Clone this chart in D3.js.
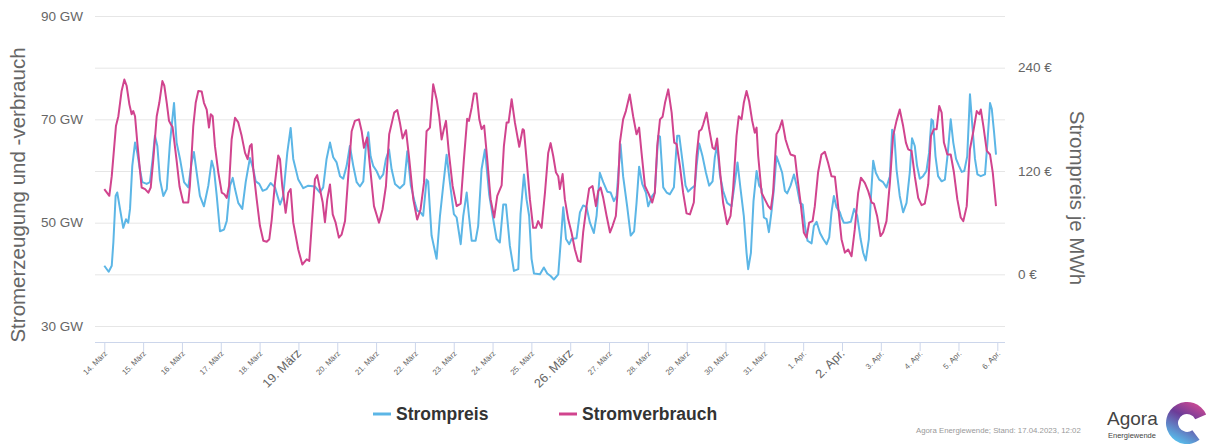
<!DOCTYPE html>
<html>
<head>
<meta charset="utf-8">
<script src="https://cdn.jsdelivr.net/npm/d3@7"></script>
<style>
	body { margin: 0; background: #fff; }
	#chart text { font-family: 'Liberation Sans', Arial, Helvetica, sans-serif; }
</style>
</head>
<body>
<div id="chart"></div>
<script>
// hours are counted from 14. März 00:00
var priceHours = [0,2.7,4.6,5.6,7,8,9.7,11.7,13.4,14.8,15.9,17.3,19,20.4,22,23.5,26.2,28.2,29.9,31.3,32.8,34.4,36.5,38.6,40.6,43.1,44.7,46.8,49.3,51.9,54,55.4,57.1,59.1,61.6,64.3,66.4,67.8,69.5,71.5,74,75.7,77.7,79.4,80.8,82.8,85.3,87.4,90,92.1,93.6,95.8,97.9,100.4,102.8,105.5,108.6,110.6,113.1,115.2,116.8,119.9,123,126.1,130.2,133.3,135.3,137.4,139.5,141.5,143.6,145.7,147.7,149.8,151.8,153.9,156,158,160.1,161.7,163.2,164.6,166.2,168.3,170.4,172.4,174.1,176,177.6,179.7,182.7,185.4,187.3,189.5,192,193.4,195.5,197.1,199.2,200.2,202.3,205.4,207.5,209.5,211.6,213.6,216.1,217.8,220.3,221.9,224,225.4,227.1,229.5,231.1,233.2,235.3,237.9,240.4,242.5,244.5,246.6,248.3,250.7,253.2,255.9,257.3,259.4,261,262.6,264.1,265.6,269.3,271.7,273.8,275.9,277.9,280.6,282.1,283.7,285.4,287.4,288.8,291.9,294,296,298.1,300.2,302.6,304.3,306.3,308.4,310.9,313,315,316.7,318.1,319.1,320.7,323.2,325.4,327.5,329,330.6,332.5,334.8,336.2,338.7,340.3,342.4,343.5,345.5,347.6,349.6,352.1,354.1,355.4,357.5,359.3,360.9,363,365.1,366.1,367.7,369.8,371.9,373.9,376,377.4,378.8,380.5,382.5,385,387.7,389.8,391.4,393.3,395.3,397,398,399.7,401.3,403.2,404.8,406.3,407.7,409.4,410.8,412.5,413.9,415.5,417.6,419,420.7,422.1,424.2,426.3,428,430,431.7,433.1,434.7,437.2,438.6,440.3,442.4,444.4,446.5,448.1,449.5,451,452.6,454.7,455.7,457.1,459.2,461.5,463.5,465.4,467.5,469.1,470.7,472.6,473.8,475.3,476.9,479,481.4,483.5,485.6,487,488.3,489.7,491.7,493.8,495.9,497.9,499.3,501,502.4,504.1,506.1,508.2,509.8,511.3,512.3,513.8,515.4,517.6,519.6,521.3,523.2,524.8,526.5,528.3,530,531.6,533.4,535.1,536.6,538.2,539.7,541.8,544.4,545.9,547.5,548.6,550,551.2];
var priceEuro = [10,3,10,37,91,95,76,54,64,60,76,126,153,141,122,107,105,107,134,161,149,110,91,99,153,199,153,134,107,101,130,142,118,91,79,103,132,122,91,50,52,62,103,112,99,83,76,107,135,122,108,105,97,99,106,101,81,91,141,170,134,110,100,103,102,95,101,134,153,136,130,114,111,126,149,126,107,102,108,149,165,137,126,120,111,116,134,145,122,105,100,105,143,103,83,74,72,68,110,108,45,18,68,103,139,107,70,66,35,68,95,68,39,39,56,122,145,93,64,41,37,81,81,33,4,6,70,116,87,68,18,1,0,8,1,-2,-6,0,37,78,41,35,41,42,72,80,78,60,48,68,118,107,96,95,85,91,126,151,114,79,45,50,83,125,105,95,79,91,95,161,160,101,95,93,101,161,161,130,103,96,100,103,126,152,137,118,103,108,136,150,116,97,83,79,107,130,99,68,25,6,25,85,120,103,99,66,64,49,74,99,137,126,118,97,94,103,116,103,83,81,56,39,36,56,61,48,41,35,43,72,91,78,72,66,60,60,61,76,68,41,25,16,41,87,132,118,110,107,101,114,168,163,122,91,72,83,118,158,149,126,111,114,120,141,180,178,137,114,108,110,139,180,153,134,126,119,120,137,209,172,134,116,114,116,153,199,192,165,139];

var loadHours = [0,3.1,4.6,7.2,8.7,10.7,12.4,13.8,15.5,16.9,17.9,19,20.4,22,23.1,25.2,27.2,28.7,30.3,32.4,34,35.9,37.1,38.6,40,41.2,42.2,44.7,46.5,48.8,51.9,52.9,55,56.5,58.1,60.2,61.6,63.3,64.7,65.8,67,68.4,70.5,72.6,74.2,75.7,77.1,78.7,80.8,82.8,84.9,87,88.6,90,91.1,92.1,94.2,96.2,98.3,100.4,102,103.5,105.5,107.5,108.6,110,112.1,113.7,115.2,116.8,119.9,122.4,125.1,126.7,128.2,130.2,131.6,133.3,135,136.4,137.8,139.5,141.2,143,145,146.7,148.8,150.8,152.9,154.9,157.4,159.1,160.5,162.5,164.2,166.7,169.8,172,174.1,176.1,179.2,181.1,182.7,184.4,186.5,188.5,191,193.4,195.5,197.6,199.2,201.3,203.3,205.4,207,208.5,209.9,211.2,213,215.3,217.8,220.3,222.3,224.3,225.4,227.1,228.5,230.1,231.8,233.2,234.8,236.7,238.8,241,242.9,245.6,247,248.7,249.9,251.8,253.8,256.5,258.6,259.4,261,263.1,265.1,266.8,268.2,270.3,272.4,274.4,275.9,277.5,279.2,280.6,281.6,283.3,284.7,286.8,288.8,290.9,292.9,294.4,296,298.1,299.7,301.8,303.9,305.3,306.8,308.4,310.5,312.6,314.2,316.2,317.7,318.7,320.7,322.4,324.8,326.9,329,330.6,332.1,334.2,336.6,338.7,340.3,341.8,343.5,345.1,346.6,348.6,350.7,352.3,353.8,355.8,357.8,359.9,362,364.4,366.1,367.7,369.2,370.2,372.3,373.9,376,377.4,378.8,380.5,382.5,385,387.1,388.7,390.8,392.2,393.9,395.3,397,398.6,400.5,402.1,403.2,404.2,406.3,408.3,410.4,412,413.4,415.5,417.2,419,421.1,422.7,424.2,426.9,428.3,430.4,432.4,434.1,435.7,437.8,439.2,441.2,443.3,445.4,447.4,449.5,451.6,453.6,455.7,457.8,459.8,461.9,463.9,466,467.7,470.1,472.2,474.3,475.7,477.7,479.8,481.4,483.5,485.6,487.6,489.7,491.7,493.8,495.5,496.9,499,501,503.1,505.2,507.2,509.3,511,512.8,514.5,516.1,517.6,519,521.1,523.2,525.2,527.3,529.4,531,533.1,535.1,537.2,539.3,540.9,541.8,543.4,545.5,547.5,549.2,551.2];
var loadGW = [56.5,55.2,59,68.7,70.6,75.5,77.7,76.5,72.9,71,71.6,70.6,65.5,60.3,56.8,56.5,55.8,56.8,62.3,70.6,73.2,77.4,76.5,73.2,69.7,69,68.5,62,57,53.9,53.9,57.1,68.7,73.2,75.5,75.4,73.2,71.9,68.4,71,70.6,64.8,59.7,55.8,55.5,54.8,57.1,66.1,70.3,69.4,66.8,63.5,62.3,64.8,65.2,60.3,54.5,49.4,46.5,46.3,46.8,50.6,57.7,63,62.3,57.1,51.9,55.8,56.5,50,44.8,41.9,42.9,42.6,49.4,58.4,59.2,56.5,53.9,50.1,54.5,57.4,51.6,50,47.1,47.7,50.3,59,67.7,69.7,70,67.7,64.5,66.5,61,53.2,50,52.6,57.1,67.1,71.3,71.8,69.4,66.3,67.9,62.3,54.5,50.6,52.6,57.7,67.7,68.4,76.8,73.9,70.6,66.1,68.1,69.7,63.5,57.1,53.2,53.7,62.3,70.1,69.7,72.3,75,75,70,68.1,68.8,62.3,54.5,51,55.2,57.2,64.8,69.4,69.4,73.9,69.4,64.7,68.1,67.9,62.3,54.5,49,49,50.3,49,55.8,63.5,65.4,62.9,59.7,59,56.5,59.4,54.5,50.6,48.1,44.8,42.6,42.4,48.1,53.2,56.6,57.1,53.2,56.1,56.8,54.8,51.3,48.1,49.4,51.3,57.7,65.5,70,71.6,74.8,70.6,67.1,68.4,63.5,57.1,55.5,53.9,55.8,64.8,70,70.5,73.2,75.8,71.3,65.5,65.2,61,55.8,51.8,51.6,53.9,62.9,67.7,68.1,69,71.3,68.1,64.5,64.2,66.3,60.3,53.9,49.7,51.3,56.5,66.8,70.6,70,73.2,75.5,73.5,69.7,67.4,68.4,62.9,55.8,54.5,53.2,52.6,55.8,67.1,68.1,69.8,66.1,64.5,63.2,62.9,59,53.9,48.1,47.1,50,50.3,53.2,59.7,63.2,63.7,61.6,59,58.9,53.2,46.8,44.2,44.8,43.5,48.7,55.8,58.7,57.7,56.1,53.9,53.7,51.3,47.4,48.1,50.3,57.7,66.8,69.7,71.9,68.7,65.5,64.2,63.9,59,54.8,53.4,53.7,57.4,66.8,68.1,68.1,72.6,71.3,65.5,63.2,63.2,59.7,54.5,51,50.3,53.2,64.2,67.7,71.6,71,71.9,68.7,63.9,63.2,59.7,53.2];

var dayLabels = ['14. März','15. März','16. März','17. März','18. März','19. März','20. März','21. März','22. März','23. März','24. März','25. März','26. März','27. März','28. März','29. März','30. März','31. März','1. Apr.','2. Apr.','3. Apr.','4. Apr.','5. Apr.','6. Apr.'];
var weekLabels = ['19. März', '26. März', '2. Apr.'];
var gwTicks = [30, 50, 70, 90];
var gwGrid = [30, 40, 50, 60, 70, 80, 90];
var euroTicks = [0, 120, 240];

var blue = '#5cb6e6', pink = '#d1448e';

function drawChart() {
	var width = 1213,
	    height = 444,
	    plotLeft = 95,
	    plotRight = 1005,
	    plotTop = 16,
	    plotBottom = 326,
	    axisY = 342;

	var svg = d3.select('#chart').append('svg')
	  .attr('width', width)
	  .attr('height', height);

	var x = d3.scaleLinear().domain([0, 552]).range([104.3, 997.3]);
	var yLoad = d3.scaleLinear().domain([30, 90]).range([plotBottom, plotTop]);
	var yPrice = d3.scaleLinear().domain([-60, 300]).range([plotBottom, plotTop]);

	// grid
	var grid = svg.append('g').attr('transform', 'translate(' + plotLeft + ',0)')
		.call(d3.axisLeft(yLoad).tickValues(gwGrid).tickSize(-(plotRight - plotLeft)).tickFormat(''));
	grid.select('.domain').remove();
	grid.selectAll('line').attr('stroke', '#e6e6e6');

	// left axis labels
	var left = svg.append('g').attr('transform', 'translate(83,0)')
		.call(d3.axisLeft(yLoad).tickValues(gwTicks).tickSize(0).tickPadding(0).tickFormat(d => d + ' GW'));
	left.select('.domain').remove();
	left.selectAll('text').attr('fill', '#666').style('font-size', '13.5px');

	// right axis labels
	var right = svg.append('g').attr('transform', 'translate(1018,0)')
		.call(d3.axisRight(yPrice).tickValues(euroTicks).tickSize(0).tickPadding(0).tickFormat(d => d + ' €'));
	right.select('.domain').remove();
	right.selectAll('text').attr('fill', '#666').style('font-size', '13.5px');

	// x axis
	svg.append('line')
		.attr('x1', plotLeft).attr('x2', plotRight)
		.attr('y1', axisY + 0.5).attr('y2', axisY + 0.5)
		.attr('stroke', '#ccd6eb');

	var xAxis = svg.append('g').attr('transform', 'translate(0,' + axisY + ')')
		.call(d3.axisBottom(x).tickValues(d3.range(0, 553, 24)).tickSize(9).tickFormat((d, i) => dayLabels[i]));
	xAxis.select('.domain').remove();
	xAxis.selectAll('line').attr('stroke', '#ccd6eb');
	xAxis.selectAll('text')
		.attr('fill', '#666')
		.attr('text-anchor', 'end')
		.attr('y', 0).attr('dy', 0)
		.style('font-size', (d, i) => weekLabels.indexOf(dayLabels[i]) >= 0 ? '12.5px' : '7.8px')
		.attr('transform', 'translate(3,12) rotate(-45)');

	// axis titles
	svg.append('text')
		.attr('transform', 'translate(25,195) rotate(-90)')
		.attr('text-anchor', 'middle')
		.attr('fill', '#666')
		.style('font-size', '20.5px')
		.text('Stromerzeugung und -verbrauch');

	svg.append('text')
		.attr('transform', 'translate(1070,198) rotate(90)')
		.attr('text-anchor', 'middle')
		.attr('fill', '#666')
		.style('font-size', '20.5px')
		.text('Strompreis je MWh');

	// lines
	var priceLine = d3.line()
		.x((d, i) => x(priceHours[i]))
		.y(d => yPrice(d));
	var loadLine = d3.line()
		.x((d, i) => x(loadHours[i]))
		.y(d => yLoad(d));

	svg.append('path')
		.attr('d', priceLine(priceEuro))
		.attr('fill', 'none')
		.attr('stroke', blue)
		.attr('stroke-width', 2)
		.attr('stroke-linejoin', 'round');

	svg.append('path')
		.attr('d', loadLine(loadGW))
		.attr('fill', 'none')
		.attr('stroke', pink)
		.attr('stroke-width', 2)
		.attr('stroke-linejoin', 'round');

	// legend
	var legend = svg.append('g').selectAll('g')
		.data([{name: 'Strompreis', color: blue, x: 373}, {name: 'Stromverbrauch', color: pink, x: 559}])
		.enter().append('g')
		.attr('transform', d => 'translate(' + d.x + ',414)');
	legend.append('line')
		.attr('x1', 0).attr('x2', 18)
		.attr('stroke', d => d.color)
		.attr('stroke-width', 3);
	legend.append('text')
		.attr('x', 23).attr('y', 6)
		.attr('fill', '#333')
		.style('font-size', '17.5px')
		.style('font-weight', 'bold')
		.text(d => d.name);

	// credits
	svg.append('text')
		.attr('x', 916).attr('y', 433)
		.attr('fill', '#999')
		.style('font-size', '7.8px')
		.text('Agora Energiewende; Stand: 17.04.2023, 12:02');

	drawLogo(svg);
}

function drawLogo(svg) {
	var defs = svg.append('defs');
	var grad = defs.append('linearGradient').attr('id', 'logo-grad')
		.attr('x1', '0.9').attr('y1', '0').attr('x2', '0.4').attr('y2', '1');
	grad.append('stop').attr('offset', '0').attr('stop-color', '#de4c93');
	grad.append('stop').attr('offset', '0.45').attr('stop-color', '#6c3c98');
	grad.append('stop').attr('offset', '1').attr('stop-color', '#58bbea');

	var arc = d3.arc()
		.innerRadius(9)
		.outerRadius(21)
		.startAngle(2.5 - 2 * Math.PI)
		.endAngle(1.15);

	svg.append('path')
		.attr('transform', 'translate(1187,423)')
		.attr('d', arc())
		.attr('fill', 'url(#logo-grad)');

	svg.append('text')
		.attr('x', 1107).attr('y', 425)
		.attr('fill', '#444')
		.style('font-size', '19px')
		.text('Agora');

	svg.append('text')
		.attr('x', 1108).attr('y', 438)
		.attr('fill', '#444')
		.style('font-size', '7.5px')
		.text('Energiewende');
}

drawChart();
</script>
</body>
</html>
